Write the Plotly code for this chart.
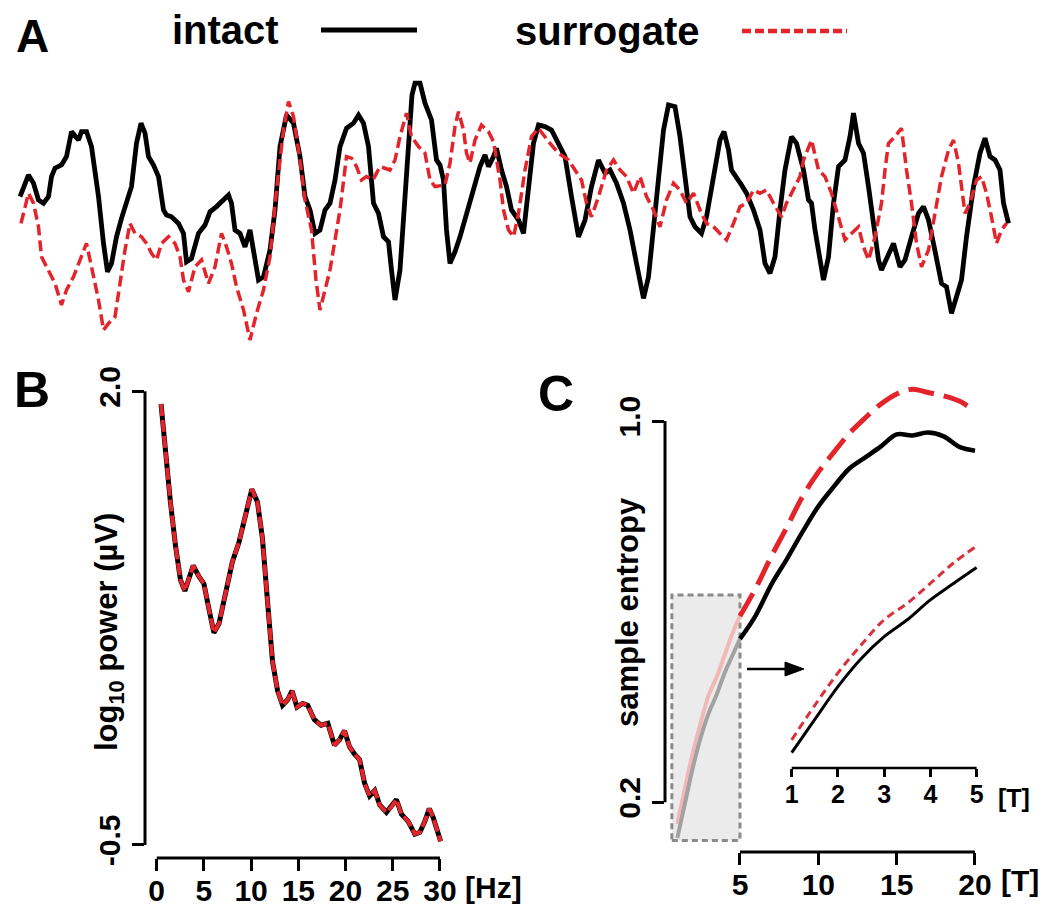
import plotly.graph_objects as go

W, H = 1050, 917
OFF = 8                     # default page margin around the plot div
FW, FH = W - 2 * OFF, H - 2 * OFF

# ---------------- Panel A: EEG segment (time in ms, amplitude in µV) ----------------
a_intact_t = [0, 17, 27, 37, 47, 57, 63, 70, 83, 93, 103, 110, 117, 123, 133, 143, 157, 167, 175, 183, 193, 203, 213, 223, 233, 242, 250, 257, 267, 277, 287, 293, 303, 317, 327, 333, 343, 357, 370, 380, 393, 403, 417, 423, 430, 440, 450, 460, 467, 477, 487, 500, 510, 520, 533, 547, 560, 570, 580, 590, 600, 610, 620, 630, 640, 653, 667, 677, 687, 697, 707, 717, 727, 737, 743, 750, 760, 767, 777, 784, 790, 800, 810, 823, 833, 840, 847, 853, 860, 870, 880, 890, 900, 910, 920, 930, 937, 947, 953, 963, 973, 983, 997, 1007, 1017, 1027, 1037, 1050, 1063, 1077, 1090, 1103, 1117, 1130, 1143, 1157, 1170, 1180, 1193, 1207, 1220, 1233, 1247, 1257, 1267, 1277, 1287, 1297, 1310, 1320, 1330, 1340, 1350, 1363, 1373, 1387, 1400, 1408, 1417, 1423, 1433, 1443, 1453, 1467, 1480, 1490, 1500, 1510, 1520, 1530, 1543, 1553, 1560, 1567, 1577, 1583, 1590, 1600, 1607, 1617, 1627, 1637, 1650, 1660, 1667, 1677, 1687, 1697, 1707, 1717, 1723, 1733, 1747, 1760, 1770, 1783, 1797, 1807, 1817, 1827, 1837, 1843, 1853, 1863, 1873, 1883, 1893, 1907, 1920, 1930, 1940, 1950, 1960, 1967, 1977]
a_intact_v = [6.7, 17.5, 13.4, 5.0, 3.4, 6.7, 16.7, 20.9, 22.5, 26.7, 39.2, 36.7, 35.0, 39.2, 39.2, 31.7, 6.7, -16.7, -30.9, -26.7, -13.4, -4.2, 3.4, 11.7, 33.4, 43.4, 38.4, 26.7, 22.5, 16.7, 0.0, -2.5, -3.4, -6.7, -11.7, -25.9, -24.2, -11.7, -7.5, -0.9, 1.7, 4.2, 7.5, 3.4, -10.0, -11.7, -18.4, -10.0, -20.0, -35.0, -33.4, -20.0, 0.0, 31.7, 47.5, 43.4, 26.7, 6.7, 0.0, -11.7, -10.0, 0.0, 3.4, 15.0, 31.7, 40.9, 43.4, 47.5, 43.4, 31.7, 3.4, -1.7, -13.4, -15.9, -30.0, -45.0, -30.0, -5.0, 36.7, 57.5, 63.4, 63.4, 53.4, 45.0, 25.0, 22.5, 15.0, -10.0, -26.7, -20.9, -13.4, -5.0, 5.0, 13.4, 21.7, 27.5, 21.7, 26.7, 30.9, 20.0, 11.7, 0.0, -5.0, -11.7, 13.4, 33.4, 42.5, 41.7, 40.0, 33.4, 26.7, 6.7, -13.4, -5.0, 11.7, 25.0, 18.4, 20.0, 13.4, 3.4, -10.0, -26.7, -44.2, -33.4, -10.0, 15.0, 40.0, 52.5, 51.7, 36.7, 16.7, -3.4, -8.4, -11.7, -3.4, 18.4, 35.0, 39.2, 30.0, 20.0, 16.7, 12.5, 8.4, 0.0, -10.0, -26.7, -31.7, -23.4, 0.0, 20.0, 36.7, 33.4, 26.7, 20.0, 5.0, 3.4, -10.0, -25.0, -35.0, -23.4, 3.4, 21.7, 25.0, 36.7, 48.4, 33.4, 28.4, 11.7, -5.0, -25.0, -30.0, -25.0, -16.7, -28.4, -25.0, -13.4, -1.7, 1.7, -5.0, -16.7, -30.0, -36.7, -38.4, -51.7, -43.4, -35.0, -13.4, 11.7, 28.4, 35.9, 26.7, 25.0, 20.0, 3.4, -6.7]

a_surr_t = [2, 17, 27, 37, 43, 57, 70, 83, 93, 107, 120, 133, 143, 157, 167, 177, 190, 200, 210, 220, 230, 243, 253, 263, 273, 283, 297, 310, 320, 327, 337, 350, 363, 377, 390, 403, 413, 423, 433, 447, 460, 473, 487, 500, 513, 527, 537, 547, 560, 570, 583, 592, 600, 610, 620, 640, 653, 663, 673, 683, 693, 706, 720, 740, 750, 760, 773, 783, 797, 810, 820, 830, 850, 860, 870, 877, 887, 893, 900, 910, 923, 937, 947, 960, 967, 977, 987, 997, 1010, 1023, 1037, 1057, 1077, 1097, 1110, 1123, 1133, 1143, 1157, 1173, 1187, 1200, 1213, 1227, 1240, 1253, 1267, 1280, 1293, 1307, 1320, 1333, 1347, 1360, 1373, 1387, 1400, 1413, 1427, 1440, 1453, 1467, 1480, 1493, 1507, 1523, 1533, 1543, 1560, 1567, 1583, 1597, 1610, 1623, 1637, 1650, 1663, 1677, 1687, 1697, 1710, 1723, 1730, 1737, 1750, 1763, 1773, 1783, 1793, 1803, 1817, 1830, 1843, 1857, 1867, 1877, 1883, 1890, 1900, 1913, 1923, 1933, 1943, 1953, 1963, 1973]
a_surr_v = [-6.7, 8.4, 3.4, -8.4, -23.4, -30.0, -36.7, -47.5, -40.0, -33.4, -25.0, -16.7, -28.4, -45.0, -60.0, -56.7, -53.4, -36.7, -20.0, -6.7, -11.7, -13.4, -16.7, -21.7, -25.0, -16.7, -13.4, -16.7, -23.4, -35.0, -40.9, -28.4, -25.0, -36.7, -28.4, -11.7, -18.4, -26.7, -38.4, -50.0, -65.0, -51.7, -40.0, -23.4, 10.0, 40.0, 54.2, 46.7, 25.0, 5.0, -10.0, -35.0, -50.0, -40.0, -30.0, 0.0, 26.7, 25.9, 21.7, 15.0, 16.7, 15.0, 21.7, 20.0, 25.0, 36.7, 48.4, 36.7, 31.7, 28.4, 15.0, 11.7, 12.5, 23.4, 41.7, 49.2, 40.0, 28.4, 23.4, 35.0, 42.5, 39.2, 34.2, 15.0, 0.0, -10.0, -13.4, -1.7, 20.0, 36.7, 40.9, 34.2, 28.4, 25.0, 20.0, 15.0, 3.4, -3.4, 6.7, 20.0, 25.0, 20.0, 16.7, 8.4, 16.7, 6.7, 0.0, -8.4, 5.0, 13.4, 10.0, 3.4, 8.4, 0.0, -6.7, -8.4, -11.7, -15.0, -6.7, 1.7, 3.4, 10.0, 8.4, 10.0, 3.4, -3.4, 3.4, 8.4, 16.7, 25.0, 35.0, 20.0, 16.7, 8.4, -3.4, -15.0, -11.7, -8.4, -18.4, -25.0, -13.4, 3.4, 20.0, 33.4, 36.7, 40.9, 20.0, 3.4, -16.7, -28.4, -20.0, -1.7, 16.7, 30.0, 35.0, 23.4, 11.7, -1.7, 3.4, 15.0, 16.7, 8.4, -3.4, -16.7, -10.0, -6.7]

# ---------------- Panel B: power spectrum ----------------
b_freq = [0.46, 0.92, 1.45, 1.99, 2.52, 2.98, 3.40, 3.87, 4.47, 5.0, 5.53, 6.06, 6.6, 7.3, 8.01, 8.72, 9.43, 10.07, 10.67, 11.2, 11.74, 12.27, 12.8, 13.33, 13.87, 14.33, 14.86, 15.46, 15.99, 16.7, 17.41, 18.12, 18.83, 19.36, 19.89, 20.43, 20.96, 21.49, 22.02, 22.55, 23.09, 23.62, 24.33, 24.86, 25.39, 25.92, 26.63, 27.34, 27.87, 28.4, 28.87, 29.29, 30.07]
b_intact = [1.93, 1.66, 1.39, 1.15, 0.96, 0.90, 0.96, 1.04, 0.98, 0.94, 0.80, 0.67, 0.72, 0.90, 1.06, 1.17, 1.33, 1.46, 1.39, 1.19, 0.84, 0.51, 0.35, 0.27, 0.30, 0.35, 0.26, 0.28, 0.27, 0.19, 0.16, 0.17, 0.05, 0.08, 0.13, 0.04, 0.00, -0.03, -0.16, -0.23, -0.20, -0.28, -0.32, -0.29, -0.25, -0.33, -0.37, -0.44, -0.43, -0.37, -0.30, -0.35, -0.48]
b_surr = [1.93, 1.66, 1.39, 1.15, 0.96, 0.90, 0.96, 1.04, 0.98, 0.94, 0.80, 0.67, 0.72, 0.90, 1.06, 1.17, 1.33, 1.46, 1.39, 1.19, 0.84, 0.51, 0.35, 0.27, 0.30, 0.35, 0.26, 0.28, 0.27, 0.19, 0.16, 0.17, 0.05, 0.08, 0.13, 0.04, 0.00, -0.03, -0.16, -0.23, -0.20, -0.28, -0.32, -0.29, -0.25, -0.33, -0.37, -0.44, -0.43, -0.37, -0.30, -0.35, -0.48]
b_xticks = [0, 5, 10, 15, 20, 25, 30]
b_yticks = [-0.5, 2.0]
b_yticklabels = ["-0.5", "2.0"]

# ---------------- Panel C: multiscale sample entropy ----------------
c_scale = [1, 1.5, 2, 2.5, 3, 3.5, 4, 4.5, 5, 6, 7, 8, 9, 10, 11, 12, 13, 14, 15, 16, 17, 18, 19, 20]
c_intact = [0.125, 0.200, 0.274, 0.337, 0.387, 0.425, 0.470, 0.507, 0.543, 0.592, 0.657, 0.711, 0.768, 0.821, 0.863, 0.901, 0.924, 0.947, 0.972, 0.970, 0.976, 0.968, 0.946, 0.938]
c_surr = [0.154, 0.232, 0.305, 0.368, 0.425, 0.462, 0.507, 0.553, 0.591, 0.649, 0.716, 0.778, 0.842, 0.893, 0.935, 0.975, 1.007, 1.036, 1.057, 1.067, 1.060, 1.053, 1.042, 1.021]
c_xticks = [5, 10, 15, 20]
c_yticks = [0.2, 1.0]
c_yticklabels = ["0.2", "1.0"]
inset_xticks = [1, 2, 3, 4, 5]
zoom_edge = 5  # scales shown in the inset

RED = "#e3242b"
FONT = "Liberation Sans, Arial, Helvetica, sans-serif"


def px(xp):
    return (xp - OFF) / FW


def py(yp):
    return 1 - (yp - OFF) / FH


fig = go.Figure()

# Panel A traces
nA = min(len(a_intact_t), len(a_intact_v))
fig.add_trace(go.Scatter(x=a_intact_t[:nA], y=a_intact_v[:nA], mode="lines",
                         line=dict(color="black", width=4.8), xaxis="x", yaxis="y"))
nS = min(len(a_surr_t), len(a_surr_v))
fig.add_trace(go.Scatter(x=a_surr_t[:nS], y=a_surr_v[:nS], mode="lines",
                         line=dict(color=RED, width=3.5, dash="11px,5px"), xaxis="x", yaxis="y"))

# Panel B traces
fig.add_trace(go.Scatter(x=b_freq, y=b_intact, mode="lines",
                         line=dict(color="black", width=5), xaxis="x2", yaxis="y2"))
fig.add_trace(go.Scatter(x=b_freq, y=b_surr, mode="lines",
                         line=dict(color=RED, width=4, dash="12px,4px"), xaxis="x2", yaxis="y2"))

# Panel C traces
k = c_scale.index(zoom_edge)
fig.add_trace(go.Scatter(x=c_scale[:k + 1], y=c_surr[:k + 1], mode="lines", line_shape="spline",
                         line=dict(color="#f2b8b8", width=4), xaxis="x3", yaxis="y3"))
fig.add_trace(go.Scatter(x=c_scale[:k + 1], y=c_intact[:k + 1], mode="lines", line_shape="spline",
                         line=dict(color="#a2a2a2", width=4), xaxis="x3", yaxis="y3"))
fig.add_trace(go.Scatter(x=c_scale[k:], y=c_intact[k:], mode="lines", line_shape="spline",
                         line=dict(color="black", width=4.5), xaxis="x3", yaxis="y3"))
fig.add_trace(go.Scatter(x=c_scale[k:], y=c_surr[k:], mode="lines", line_shape="spline",
                         line=dict(color=RED, width=5, dash="26px,10px"), xaxis="x3", yaxis="y3"))

# Inset traces
fig.add_trace(go.Scatter(x=c_scale[:k + 1], y=c_intact[:k + 1], mode="lines", line_shape="spline",
                         line=dict(color="black", width=3), xaxis="x4", yaxis="y4"))
fig.add_trace(go.Scatter(x=c_scale[:k + 1], y=c_surr[:k + 1], mode="lines", line_shape="spline",
                         line=dict(color="#d9303a", width=3, dash="8px,5px"), xaxis="x4", yaxis="y4"))

hidden = dict(visible=False, automargin=False)
tick_common = dict(showgrid=False, zeroline=False, showline=False, ticks="outside", automargin=False,
                   tickcolor="black", tickwidth=3, ticklen=12,
                   tickfont=dict(family=FONT, size=30, color="black", weight="bold"))

fig.update_layout(
    width=FW, height=FH, margin=dict(l=0, r=0, t=0, b=0, autoexpand=False),
    paper_bgcolor="white", plot_bgcolor="rgba(0,0,0,0)", showlegend=False,
    xaxis=dict(domain=[px(18), px(1012)], range=[-4, 1984], anchor="y", **hidden),
    yaxis=dict(domain=[py(345), py(75)], range=[-67.5, 67.5], anchor="x", **hidden),
    xaxis2=dict(domain=[px(145), px(446)], range=[-1.24, 30.64], anchor="y2",
                tickvals=b_xticks, ticklabelstandoff=-6, **tick_common),
    yaxis2=dict(domain=[py(858), py(385)], range=[-0.572, 2.035], anchor="x2",
                tickvals=b_yticks, ticktext=b_yticklabels, tickangle=-90, **tick_common),
    xaxis3=dict(domain=[px(665), px(985)], range=[0.213, 20.64], anchor="y3",
                tickvals=c_xticks, ticklabelstandoff=-6, **tick_common),
    yaxis3=dict(domain=[py(852), py(380)], range=[0.0957, 1.0863], anchor="x3",
                tickvals=c_yticks, ticktext=c_yticklabels, tickangle=-90, **tick_common),
    xaxis4=dict(domain=[px(785), px(990)], range=[0.855, 5.29], anchor="y4",
                tickvals=inset_xticks, showgrid=False, zeroline=False, showline=False, automargin=False,
                ticks="outside", tickcolor="black", tickwidth=2.5, ticklen=8, ticklabelstandoff=-4,
                tickfont=dict(family=FONT, size=25, color="black", weight="bold")),
    yaxis4=dict(domain=[py(768), py(540)], range=[0.0905, 0.605], anchor="x4", **hidden),
)

shapes = []
# gray zoom box (behind curves)
shapes.append(dict(type="rect", xref="x3", yref="y3", x0=0.65, x1=zoom_edge, y0=0.12, y1=0.635,
                   fillcolor="#ebebeb", line=dict(color="#8a8a8a", width=3, dash="6px,4px"),
                   layer="below"))
# axis lines
shapes.append(dict(type="line", xref="x2", yref="y2 domain", x0=b_xticks[0], x1=b_xticks[-1], y0=0, y1=0,
                   line=dict(color="black", width=3)))
shapes.append(dict(type="line", xref="x2 domain", yref="y2", x0=0, x1=0, y0=b_yticks[0], y1=b_yticks[-1],
                   line=dict(color="black", width=3)))
shapes.append(dict(type="line", xref="x3", yref="y3 domain", x0=c_xticks[0], x1=c_xticks[-1], y0=0, y1=0,
                   line=dict(color="black", width=3)))
shapes.append(dict(type="line", xref="x3 domain", yref="y3", x0=0, x1=0, y0=c_yticks[0], y1=c_yticks[-1],
                   line=dict(color="black", width=3)))
shapes.append(dict(type="line", xref="x4", yref="y4 domain", x0=inset_xticks[0], x1=inset_xticks[-1],
                   y0=0, y1=0, line=dict(color="black", width=2.5)))
# legend samples
shapes.append(dict(type="line", xref="paper", yref="paper", x0=px(321), x1=px(417), y0=py(30), y1=py(30),
                   line=dict(color="black", width=5)))
shapes.append(dict(type="line", xref="paper", yref="paper", x0=px(742), x1=px(847), y0=py(31), y1=py(31),
                   line=dict(color=RED, width=4.5, dash="9px,4px")))
# arrow from zoom box to inset
shapes.append(dict(type="line", xref="paper", yref="paper", x0=px(747), x1=px(788), y0=py(669), y1=py(669),
                   line=dict(color="black", width=2.5)))
shapes.append(dict(type="path", xref="paper", yref="paper",
                   path=f"M {px(785)},{py(662)} L {px(804)},{py(669)} L {px(785)},{py(676)} Z",
                   fillcolor="black", line=dict(color="black", width=1)))
fig.update_layout(shapes=shapes)

ann = []


def label(text, x, y, size, xanchor="left", angle=0, yanchor="middle"):
    ann.append(dict(text=text, xref="paper", yref="paper", x=px(x), y=py(y), xanchor=xanchor,
                    yanchor=yanchor, showarrow=False, textangle=angle,
                    font=dict(family=FONT, size=size, color="black")))


label("<b>A</b>", 14, OFF, 46, yanchor="top")
label("<b>intact</b>", 170, 30, 40)
label("<b>surrogate</b>", 513, 31, 40)
label("<b>B</b>", 12, 390, 50)
label("<b>C</b>", 536, 394, 50)
label("<b>log<sub>10</sub> power (µV)</b>", 109, 632, 31, xanchor="center", angle=-90)
label("<b>sample entropy</b>", 627, 612, 31, xanchor="center", angle=-90)
label("<b>[Hz]</b>", 463, 887, 30)
label("<b>[T]</b>", 999, 880, 30)
label("<b>[T]</b>", 996, 798, 25)
fig.update_layout(annotations=ann)

fig.write_html("out.html")
